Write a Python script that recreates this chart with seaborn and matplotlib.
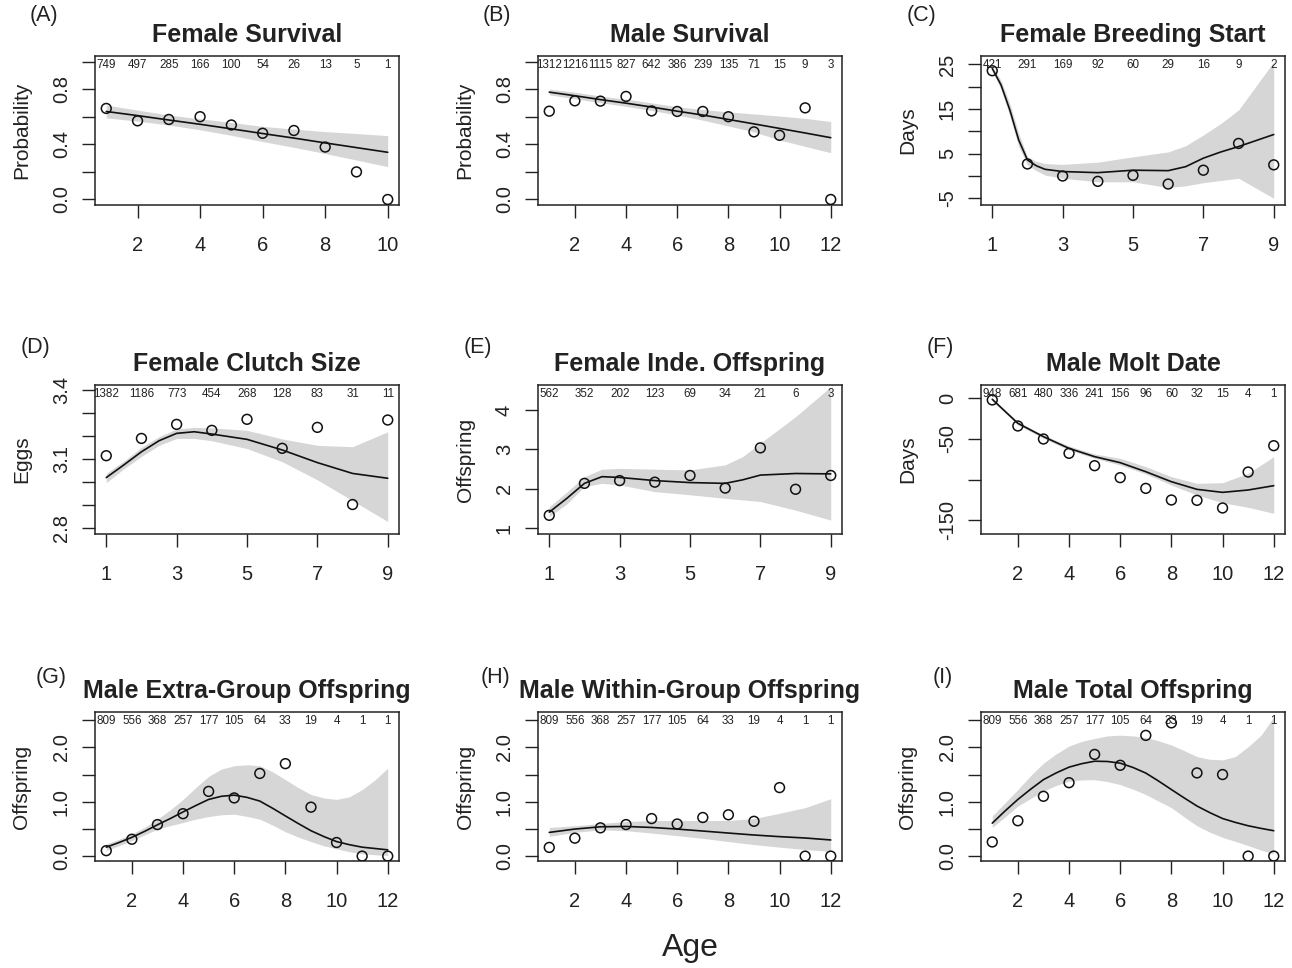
import numpy as np
import pandas as pd
import matplotlib
matplotlib.use("Agg")
import matplotlib.pyplot as plt
import matplotlib.transforms as mtransforms
import seaborn as sns

# ---- data ----
# (A) Female survival
a_age = [1, 2, 3, 4, 5, 6, 7, 8, 9, 10]
a_obs = [0.66, 0.57, 0.58, 0.60, 0.54, 0.48, 0.50, 0.38, 0.20, 0.0]
a_n = [749, 497, 285, 166, 100, 54, 26, 13, 5, 1]
a_fx = [1, 2, 3, 4, 5, 6, 7, 8, 9, 10]
a_fit = [0.638, 0.608, 0.576, 0.545, 0.512, 0.478, 0.445, 0.410, 0.376, 0.342]
a_hi = [0.684, 0.648, 0.612, 0.585, 0.558, 0.530, 0.510, 0.492, 0.478, 0.463]
a_lo = [0.592, 0.568, 0.540, 0.505, 0.465, 0.420, 0.378, 0.333, 0.286, 0.238]

# (B) Male survival
b_age = [1, 2, 3, 4, 5, 6, 7, 8, 9, 10, 11, 12]
b_obs = [0.64, 0.715, 0.713, 0.747, 0.642, 0.638, 0.638, 0.60, 0.49, 0.465, 0.664, 0.0]
b_n = [1312, 1216, 1115, 827, 642, 386, 239, 135, 71, 15, 9, 3]
b_fx = [1, 2, 3, 4, 5, 6, 7, 8, 9, 10, 11, 12]
b_fit = [0.778, 0.752, 0.724, 0.698, 0.670, 0.640, 0.612, 0.580, 0.548, 0.515, 0.482, 0.448]
b_hi = [0.800, 0.778, 0.750, 0.727, 0.700, 0.672, 0.652, 0.635, 0.620, 0.605, 0.588, 0.565]
b_lo = [0.759, 0.730, 0.702, 0.675, 0.645, 0.612, 0.575, 0.533, 0.490, 0.431, 0.385, 0.339]

# (C) Female breeding start
c_age = [1, 2, 3, 4, 5, 6, 7, 8, 9]
c_obs = [23.6, 2.7, 0.0, -1.2, 0.15, -1.8, 1.3, 7.3, 2.5]
c_n = [421, 291, 169, 92, 60, 29, 16, 9, 2]
c_fx = [1, 1.25, 1.5, 1.75, 2, 2.25, 2.5, 3, 4, 5, 6, 6.5, 7, 7.5, 8, 9]
c_fit = [24.1, 20.4, 14.8, 8.1, 3.6, 2.3, 1.5, 1.0, 0.75, 1.3, 1.2, 2.1, 4.0, 5.4, 6.6, 9.3]
c_hi = [24.6, 21.4, 16.2, 9.6, 4.3, 3.3, 2.8, 2.6, 3.1, 4.3, 5.4, 6.8, 9.2, 11.8, 14.8, 25.6]
c_lo = [23.6, 19.4, 13.4, 6.6, 2.5, 1.2, 0.2, -0.5, -1.3, -1.3, -2.6, -2.2, -1.5, -1.0, -0.5, -5.0]

# (D) Female clutch size
d_age = [1, 2, 3, 4, 5, 6, 7, 8, 9]
d_obs = [3.115, 3.19, 3.251, 3.225, 3.273, 3.147, 3.238, 2.903, 3.27]
d_n = [1382, 1186, 773, 454, 268, 128, 83, 31, 11]
d_fx = [1, 1.5, 2, 2.5, 3, 3.5, 4, 5, 6, 7, 8, 9]
d_fit = [3.020, 3.075, 3.132, 3.180, 3.212, 3.219, 3.209, 3.186, 3.140, 3.085, 3.038, 3.017]
d_hi = [3.038, 3.092, 3.151, 3.198, 3.231, 3.238, 3.236, 3.225, 3.188, 3.160, 3.154, 3.219]
d_lo = [2.998, 3.058, 3.112, 3.160, 3.190, 3.190, 3.180, 3.146, 3.089, 3.010, 2.920, 2.829]

# (E) Female independent offspring
e_age = [1, 2, 3, 4, 5, 6, 7, 8, 9]
e_obs = [1.33, 2.14, 2.21, 2.17, 2.34, 2.02, 3.04, 1.99, 2.34]
e_n = [562, 352, 202, 123, 69, 34, 21, 6, 3]
e_fx = [1, 1.5, 2, 2.5, 3, 4, 5, 6, 6.5, 7, 8, 9]
e_fit = [1.41, 1.76, 2.14, 2.31, 2.29, 2.21, 2.16, 2.14, 2.23, 2.35, 2.39, 2.38]
e_hi = [1.55, 1.92, 2.31, 2.50, 2.52, 2.50, 2.48, 2.61, 2.82, 3.16, 3.83, 4.59]
e_lo = [1.30, 1.62, 2.06, 2.14, 2.10, 1.93, 1.85, 1.76, 1.72, 1.68, 1.46, 1.21]

# (F) Male molt date
f_age = [1, 2, 3, 4, 5, 6, 7, 8, 9, 10, 11, 12]
f_obs = [-2, -34, -50, -67.6, -82.8, -97.5, -110.7, -125, -125.4, -134.8, -90.6, -58.2]
f_n = [948, 681, 480, 336, 241, 156, 96, 60, 32, 15, 4, 1]
f_fx = [1, 2, 3, 4, 5, 6, 7, 8, 9, 10, 11, 12]
f_fit = [-1.2, -30.7, -47.1, -61.5, -71.7, -79.1, -90.2, -102.5, -111.9, -115.6, -112.7, -107.4]
f_hi = [0.0, -28.7, -45.1, -58.6, -68.4, -73.8, -84.0, -96.3, -104.5, -103.7, -92.2, -71.7]
f_lo = [-2.9, -32.8, -49.2, -63.5, -73.8, -82.0, -93.0, -106.6, -118.8, -128.3, -134.0, -141.4]

# (G) Male extra-group offspring
g_age = [1, 2, 3, 4, 5, 6, 7, 8, 9, 10, 11, 12]
g_obs = [0.10, 0.31, 0.58, 0.78, 1.19, 1.07, 1.52, 1.70, 0.90, 0.25, 0.0, 0.0]
g_n = [809, 556, 368, 257, 177, 105, 64, 33, 19, 4, 1, 1]
g_fx = [1, 1.5, 2, 2.5, 3, 3.5, 4, 4.5, 5, 5.5, 6, 6.5, 7, 7.5, 8, 8.5, 9, 9.5,
        10, 10.5, 11, 11.5, 12]
g_fit = [0.164, 0.25, 0.345, 0.455, 0.576, 0.69, 0.812, 0.93, 1.042, 1.10, 1.121, 1.08,
         1.012, 0.88, 0.739, 0.60, 0.467, 0.36, 0.267, 0.21, 0.164, 0.14, 0.115]
g_hi = [0.224, 0.31, 0.406, 0.53, 0.679, 0.85, 1.042, 1.26, 1.467, 1.60, 1.661, 1.68,
        1.661, 1.55, 1.406, 1.26, 1.133, 1.07, 1.042, 1.09, 1.224, 1.40, 1.618]
g_lo = [0.103, 0.19, 0.285, 0.39, 0.497, 0.56, 0.618, 0.68, 0.727, 0.76, 0.770, 0.73,
        0.679, 0.57, 0.448, 0.35, 0.267, 0.19, 0.133, 0.08, 0.042, 0.025, 0.012]

# (H) Male within-group offspring
h_age = [1, 2, 3, 4, 5, 6, 7, 8, 9, 10, 11, 12]
h_obs = [0.16, 0.33, 0.52, 0.58, 0.69, 0.59, 0.71, 0.76, 0.64, 1.26, 0.0, 0.0]
h_n = [809, 556, 368, 257, 177, 105, 64, 33, 19, 4, 1, 1]
h_fx = [1, 2, 3, 4, 5, 6, 7, 8, 9, 10, 11, 12]
h_fit = [0.436, 0.497, 0.539, 0.545, 0.527, 0.497, 0.461, 0.424, 0.388, 0.358, 0.333, 0.297]
h_hi = [0.527, 0.558, 0.600, 0.636, 0.655, 0.655, 0.655, 0.655, 0.691, 0.788, 0.891, 1.055]
h_lo = [0.364, 0.436, 0.485, 0.467, 0.424, 0.376, 0.327, 0.267, 0.212, 0.164, 0.121, 0.085]

# (I) Male total offspring
i_age = [1, 2, 3, 4, 5, 6, 7, 8, 9, 10, 11, 12]
i_obs = [0.26, 0.65, 1.10, 1.35, 1.87, 1.67, 2.22, 2.45, 1.53, 1.50, 0.0, 0.0]
i_n = [809, 556, 368, 257, 177, 105, 64, 33, 19, 4, 1, 1]
i_fx = [1, 1.5, 2, 2.5, 3, 3.5, 4, 4.5, 5, 5.5, 6, 6.5, 7, 7.5, 8, 8.5, 9, 9.5,
        10, 10.5, 11, 11.5, 12]
i_fit = [0.606, 0.83, 1.042, 1.23, 1.406, 1.53, 1.636, 1.70, 1.745, 1.74, 1.709, 1.63,
         1.527, 1.38, 1.224, 1.07, 0.921, 0.80, 0.691, 0.62, 0.558, 0.51, 0.467]
i_hi = [0.739, 0.98, 1.224, 1.48, 1.709, 1.88, 2.024, 2.11, 2.164, 2.21, 2.224, 2.21,
        2.182, 2.12, 2.042, 1.94, 1.830, 1.78, 1.770, 1.83, 2.012, 2.22, 2.558]
i_lo = [0.527, 0.72, 0.921, 1.06, 1.194, 1.30, 1.376, 1.40, 1.406, 1.37, 1.315, 1.23,
        1.133, 1.01, 0.891, 0.72, 0.558, 0.44, 0.345, 0.27, 0.194, 0.11, 0.042]

titles = ["Female Survival", "Male Survival", "Female Breeding Start",
          "Female Clutch Size", "Female Inde. Offspring", "Male Molt Date",
          "Male Extra-Group Offspring", "Male Within-Group Offspring", "Male Total Offspring"]
letters = ["(A)", "(B)", "(C)", "(D)", "(E)", "(F)", "(G)", "(H)", "(I)"]
ylabels = ["Probability", "Probability", "Days", "Eggs", "Offspring", "Days",
           "Offspring", "Offspring", "Offspring"]

xticks_even12 = [2, 4, 6, 8, 10, 12]
xticks_odd9 = [1, 3, 5, 7, 9]
surv_ticks = [0, 0.2, 0.4, 0.6, 0.8, 1.0]
surv_labels = ["0.0", "", "0.4", "", "0.8", ""]
off_ticks = [0, 0.5, 1.0, 1.5, 2.0, 2.5]
off_labels = ["0.0", "", "1.0", "", "2.0", ""]

panels = [
    (a_age, a_obs, a_n, a_fx, a_fit, a_lo, a_hi, [2, 4, 6, 8, 10],
     surv_ticks, surv_labels, (-0.04, 1.04)),
    (b_age, b_obs, b_n, b_fx, b_fit, b_lo, b_hi, xticks_even12,
     surv_ticks, surv_labels, (-0.04, 1.04)),
    (c_age, c_obs, c_n, c_fx, c_fit, c_lo, c_hi, xticks_odd9,
     [-5, 0, 5, 10, 15, 20, 25], ["-5", "", "5", "", "15", "", "25"], (-6.5, 26.9)),
    (d_age, d_obs, d_n, d_fx, d_fit, d_lo, d_hi, xticks_odd9,
     [2.8, 2.9, 3.0, 3.1, 3.2, 3.3, 3.4], ["2.8", "", "", "3.1", "", "", "3.4"], (2.775, 3.422)),
    (e_age, e_obs, e_n, e_fx, e_fit, e_lo, e_hi, xticks_odd9,
     [1, 2, 3, 4], ["1", "2", "3", "4"], (0.856, 4.634)),
    (f_age, f_obs, f_n, f_fx, f_fit, f_lo, f_hi, xticks_even12,
     [-150, -100, -50, 0], ["-150", "", "-50", "0"], (-166.8, 16.4)),
    (g_age, g_obs, g_n, g_fx, g_fit, g_lo, g_hi, xticks_even12,
     off_ticks, off_labels, (-0.09, 2.65)),
    (h_age, h_obs, h_n, h_fx, h_fit, h_lo, h_hi, xticks_even12,
     off_ticks, off_labels, (-0.09, 2.65)),
    (i_age, i_obs, i_n, i_fx, i_fit, i_lo, i_hi, xticks_even12,
     off_ticks, off_labels, (-0.09, 2.65)),
]

sns.set_theme(style="ticks")
plt.rcParams["font.family"] = ["Liberation Sans", "DejaVu Sans"]

W, H = 1292, 968
fig = plt.figure(figsize=(W / 100, H / 100), dpi=100)

col_left = [95, 538, 981]
row_top = [56, 385, 712]
ax_w, ax_h = 304, 149
letter_pos = [(44, 15), (497, 15), (921, 15),
              (36, 347), (478, 347), (940, 347),
              (51, 677), (495, 678), (943, 677)]

for k, (age, obs, n, fx, fit, lo, hi, xt, yt, ytl, ylim) in enumerate(panels):
    r, c = divmod(k, 3)
    ax = fig.add_axes([col_left[c] / W, 1 - (row_top[r] + ax_h) / H, ax_w / W, ax_h / H])

    fit_df = pd.DataFrame({"age": fx, "fit": fit, "lo": lo, "hi": hi})
    obs_df = pd.DataFrame({"age": age, "obs": obs})

    ax.fill_between(fit_df["age"], fit_df["lo"], fit_df["hi"], color="#d6d6d6", lw=0)
    sns.lineplot(data=fit_df, x="age", y="fit", ax=ax, color="#111111", lw=1.2)
    sns.scatterplot(data=obs_df, x="age", y="obs", ax=ax, marker="o", s=50,
                    facecolor="none", edgecolor="#111111", linewidth=1.1, zorder=3)

    x0, x1 = min(age), max(age)
    pad = 0.04 * (x1 - x0)
    ax.set_xlim(x0 - pad, x1 + pad)
    ax.set_ylim(*ylim)

    ax.set_xticks(xt)
    ax.set_xticklabels([str(v) for v in xt])
    ax.set_yticks(yt)
    ax.set_yticklabels(ytl, rotation=90, va="center")
    ax.tick_params(axis="both", length=9.4, width=1.0, color="#222222",
                   labelsize=14.5, labelcolor="#222222")
    ax.tick_params(axis="x", pad=13)
    ax.tick_params(axis="y", pad=8)

    for sp in ax.spines.values():
        sp.set_visible(True)
        sp.set_linewidth(1.1)
        sp.set_color("#222222")

    ax.set_xlabel("")
    ax.set_ylabel(ylabels[k], fontsize=15, color="#222222", va="center")
    ax.yaxis.set_label_coords(-73 / ax_w, 0.5)
    ax.set_title(titles[k], fontsize=18, fontweight="bold", color="#222222", pad=10)

    trans = mtransforms.blended_transform_factory(ax.transData, ax.transAxes)
    for xv, cnt in zip(age, n):
        ax.text(xv, 1 - 9 / ax_h, str(cnt), transform=trans, ha="center", va="center",
                fontsize=8.4, color="#222222")

    lx, ly = letter_pos[k]
    fig.text(lx / W, 1 - ly / H, letters[k], fontsize=15.5, ha="center", va="center",
             color="#222222")

fig.text(690 / W, 1 - 948 / H, "Age", fontsize=23, ha="center", va="center", color="#222222")

fig.savefig("out.png", dpi=100)
